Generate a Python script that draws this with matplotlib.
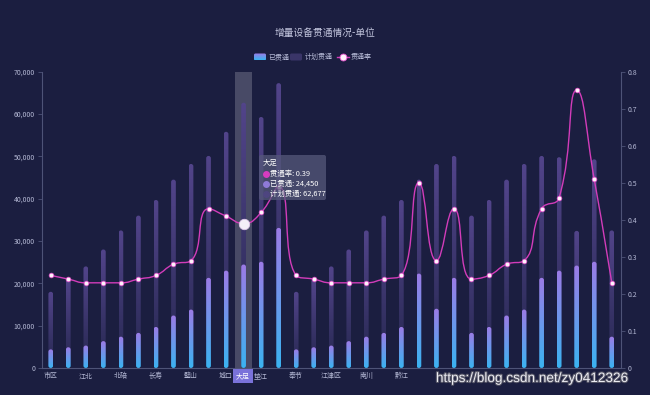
import numpy as np
import matplotlib
matplotlib.use("Agg")
import matplotlib.pyplot as plt
from matplotlib.patches import FancyBboxPatch, Rectangle
from matplotlib.path import Path
from matplotlib.patches import PathPatch
from matplotlib.colors import LinearSegmentedColormap
import matplotlib.patheffects as pe

plt.rcParams['font.family'] = ['Noto Sans CJK SC', 'DejaVu Sans']

names = ['市区', '渝中', '江北', '沙坪坝', '北碚', '渝北', '长寿', '巴南', '璧山', '铜梁',
         '城口', '大足', '垫江', '丰都', '奉节', '涪陵', '江津区', '开州', '南川', '彭水',
         '黔江', '荣昌', '石柱', '潼南', '万州', '巫山', '巫溪', '武隆', '秀山', '永川',
         '酉阳', '云阳', '忠县']
plan = [18000, 21000, 24000, 28000, 32500, 36000, 39700, 44500, 48200, 50100,
        55800, 62677, 59300, 67300, 18000, 21000, 24000, 28000, 32500, 36000,
        39700, 44500, 48200, 50100, 36000, 39700, 44500, 48200, 50100, 49800,
        32400, 49300, 32500]
done = [4400, 4900, 5300, 6350, 7400, 8300, 9700, 12400, 13800, 21300,
        23000, 24450, 25100, 33100, 4400, 4900, 5300, 6350, 7400, 8300,
        9700, 22300, 14000, 21300, 8300, 9700, 12400, 13800, 21300, 23000,
        24200, 25100, 7400]
rate = [0.25, 0.24, 0.23, 0.23, 0.23, 0.24, 0.25, 0.28, 0.29, 0.43,
        0.41, 0.39, 0.42, 0.49, 0.25, 0.24, 0.23, 0.23, 0.23, 0.24,
        0.25, 0.50, 0.29, 0.43, 0.24, 0.25, 0.28, 0.29, 0.43, 0.46,
        0.75, 0.51, 0.23]
hover = 11
last_label = 20   # labels further right sit under the watermark

bg = '#1b1e40'
txt = '#b4b8d4'
axc = '#4e5377'

W, H = 650, 395
fig = plt.figure(figsize=(6.5, 3.95), dpi=100, facecolor=bg)
L, R, B, T = 42, 620.5, 368, 71.7
ax = fig.add_axes([L / W, 1 - B / H, (R - L) / W, (B - T) / H])
ax.set_facecolor(bg)
n = len(names)
ax.set_xlim(-0.5, n - 0.5)
ax.set_ylim(0, 70000)

px_x = (R - L) / n          # px per category
px_y = (B - T) / 70000      # px per unit
asp = (1 / px_y) / (1 / px_x)
bw = 0.27


def grad_bar(a, x, h, c_bot, c_top, z):
    box = FancyBboxPatch((x - bw / 2, 0), bw, h,
                         boxstyle="round,pad=0,rounding_size=%f" % (bw / 2),
                         mutation_aspect=asp, fc='none', ec='none')
    a.add_patch(box)
    cm = LinearSegmentedColormap.from_list('g', [c_bot, c_top])
    im = a.imshow(np.linspace(0, 1, 64).reshape(-1, 1), extent=[x - bw / 2, x + bw / 2, 0, h],
                  origin='lower', aspect='auto', cmap=cm, zorder=z, interpolation='bilinear')
    im.set_clip_path(box)


ax.axvspan(hover - 0.5, hover + 0.5, color='white', alpha=0.2, lw=0, zorder=0.5)
for i in range(n):
    grad_bar(ax, i, plan[i], '#25274f', '#52448a', 1)
    grad_bar(ax, i, done[i], '#3bb3f1', '#9c7be6', 2)

ax.set_xlim(-0.5, n - 0.5)
ax.set_ylim(0, 70000)
ax.set_yticks(range(0, 70001, 10000))
ax.set_yticklabels(['{:,}'.format(v) for v in range(0, 70001, 10000)])
ticks = [i for i in range(0, last_label + 1, 2)]
ax.set_xticks(ticks)
ax.set_xticklabels([names[i] if i != hover else '' for i in ticks])
for s in ['top', 'right']:
    ax.spines[s].set_visible(False)
for s in ['left', 'bottom']:
    ax.spines[s].set_color(axc)
    ax.spines[s].set_linewidth(0.8)
ax.tick_params(axis='y', colors=axc, labelcolor=txt, labelsize=5, length=3, width=0.6, pad=2)
ax.tick_params(axis='x', colors=axc, labelcolor=txt, labelsize=5, length=0, pad=3)

ax2 = ax.twinx()
ax2.set_ylim(0, 0.8)
ax2.set_yticks(np.arange(0, 0.81, 0.1))
ax2.set_yticklabels(['0'] + ['%.1f' % v for v in np.arange(0.1, 0.81, 0.1)])
for s in ['top', 'left', 'bottom']:
    ax2.spines[s].set_visible(False)
ax2.spines['right'].set_color(axc)
ax2.spines['right'].set_linewidth(0.8)
ax2.tick_params(axis='y', colors=axc, labelcolor=txt, labelsize=5, length=3, width=0.6, pad=2)

# smooth line like echarts (smooth 0.5, constrained), computed in pixel space
sx = np.arange(n) * px_x
sy = np.array(rate) * (B - T) / 0.8
sm = 0.5
cps = []
for i in range(n):
    x, y = sx[i], sy[i]
    if i == 0 or i == n - 1:
        cps.append(((x, y), (x, y)))
        continue
    px, py, nx, ny = sx[i - 1], sy[i - 1], sx[i + 1], sy[i + 1]
    vx, vy = nx - px, ny - py
    l0 = np.hypot(x - px, y - py)
    l1 = np.hypot(nx - x, ny - y)
    r = l1 / (l0 + l1)
    cx1, cy1 = x + vx * sm * r, y + vy * sm * r
    cx1 = max(min(cx1, max(nx, x)), min(nx, x))
    cy1 = max(min(cy1, max(ny, y)), min(ny, y))
    cx0 = x - (cx1 - x) * l0 / l1
    cy0 = y - (cy1 - y) * l0 / l1
    cx0 = max(min(cx0, max(px, x)), min(px, x))
    cy0 = max(min(cy0, max(py, y)), min(py, y))
    cx1 = x + (x - cx0) * l1 / l0
    cy1 = y + (y - cy0) * l1 / l0
    cps.append(((cx0, cy0), (cx1, cy1)))

verts = [(sx[0], sy[0])]
codes = [Path.MOVETO]
for i in range(n - 1):
    verts += [cps[i][1], cps[i + 1][0], (sx[i + 1], sy[i + 1])]
    codes += [Path.CURVE4] * 3
verts = [(vx_ / px_x, vy_ / ((B - T) / 0.8)) for vx_, vy_ in verts]
ax2.add_patch(PathPatch(Path(verts, codes), fc='none', ec='#d23cba', lw=1.0, zorder=3))
ax2.plot(range(n), rate, ls='none', marker='o', ms=3.4, mfc='#fff0fb', mec='#e24cc8',
         mew=0.5, zorder=4)
ax2.plot([hover], [rate[hover]], ls='none', marker='o', ms=7.5, mfc='#f4eef8', mec='#e0c8ec',
         mew=0.6, zorder=5)
ax2.set_xlim(-0.5, n - 0.5)

# overlay in pixel coordinates
ov = fig.add_axes([0, 0, 1, 1])
ov.set_xlim(0, W)
ov.set_ylim(H, 0)
ov.axis('off')
ov.patch.set_alpha(0)

ov.text(325, 33, '增量设备贯通情况-单位', ha='center', va='center', fontsize=7, color='#c4c7df')

# legend
cm = LinearSegmentedColormap.from_list('lg', ['#9c7be6', '#3bb3f1'])
lb = FancyBboxPatch((254, 53.5), 12, 7, boxstyle="round,pad=0,rounding_size=1.5", fc='none', ec='none')
ov.add_patch(lb)
im = ov.imshow(np.linspace(0, 1, 16).reshape(-1, 1), extent=[254, 266, 60.5, 53.5], origin='upper',
               aspect='auto', cmap=cm, interpolation='bilinear')
im.set_clip_path(lb)
ov.set_xlim(0, W)
ov.set_ylim(H, 0)
ov.text(268, 57, '已贯通', va='center', fontsize=5, color=txt)
ov.add_patch(FancyBboxPatch((290, 53.5), 12, 7, boxstyle="round,pad=0,rounding_size=1.5",
                            fc='#3a3568', ec='none'))
ov.text(305, 57, '计划贯通', va='center', fontsize=5, color=txt)
ov.plot([337, 349], [57, 57], color='#d23cba', lw=1.0)
ov.plot([343], [57], marker='o', ms=5, mfc='#fff0fb', mec='#e24cc8', mew=0.6)
ov.text(351, 57, '贯通率', va='center', fontsize=5, color=txt)

# hovered x label
ov.add_patch(Rectangle((233, 369), 20, 14, fc='#7a72da', ec='none'))
ov.text(243, 376, names[hover], ha='center', va='center', fontsize=5, color='white')

# tooltip
ov.add_patch(FancyBboxPatch((259, 155), 67, 45, boxstyle="round,pad=0,rounding_size=2",
                            fc='#55587a', ec='none', alpha=0.75, zorder=6))
ov.text(263, 162.5, names[hover], va='center', fontsize=5.3, color='white', zorder=7)
rows = [('#d63cc0', '贯通率: %.2f' % rate[hover]),
        ('#8f7ad8', '已贯通: {:,}'.format(done[hover])),
        ('#4e4580', '计划贯通: {:,}'.format(plan[hover]))]
for k, (c, s) in enumerate(rows):
    yy = 174 + k * 10
    ov.plot([266], [yy], marker='o', ms=4, color=c, zorder=7)
    ov.text(270, yy, s, va='center', fontsize=5.3, color='white', zorder=7)

# watermark
ov.text(532, 378, 'https://blog.csdn.net/zy0412326', ha='center', va='center',
        fontsize=9.8, family='Liberation Sans', color='#ececf2',
        path_effects=[pe.withStroke(linewidth=1.5, foreground='#555566')])

fig.savefig('out.png', dpi=100, facecolor=bg)
